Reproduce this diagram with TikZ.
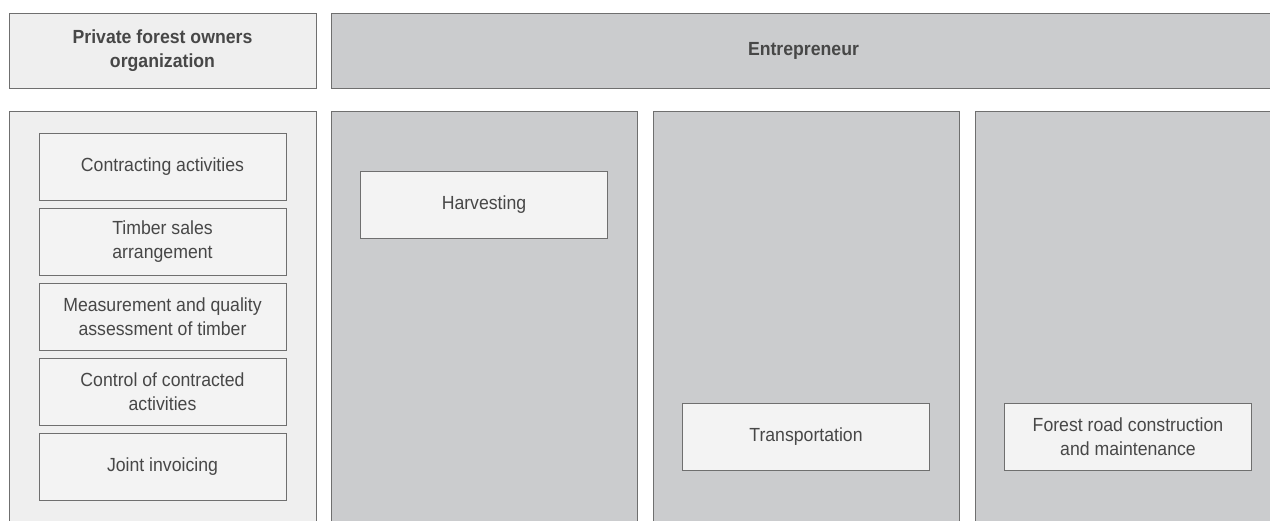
\documentclass[tikz,border=0pt]{standalone}
\usepackage{fontspec}
\setmainfont[FakeStretch=0.93]{Liberation Sans}
\usepackage{xcolor}
\usepackage{tikz}
\definecolor{panelgray}{HTML}{CBCCCE}
\definecolor{lightpanel}{HTML}{EFEFEF}
\definecolor{boxfill}{HTML}{F3F3F3}
\definecolor{edgegray}{HTML}{6F6F6F}
\definecolor{txtgray}{HTML}{474747}
\tikzset{head/.style={draw=edgegray, line width=1pt, minimum width=307pt, minimum height=75pt, inner sep=0pt, align=center, text=txtgray, font=\fontsize{19}{23.7}\selectfont\bfseries},
panel/.style={draw=edgegray, line width=1pt, anchor=north west, minimum width=306pt, minimum height=430pt, inner sep=0pt},
%white boxes inside the panels
task/.style={draw=edgegray, fill=boxfill, line width=0.8pt, minimum width=247pt, minimum height=67pt, inner sep=0pt, align=center, text=txtgray, font=\fontsize{19}{23.7}\selectfont}}

\begin{document}
\begin{tikzpicture}[x=1pt, y=-1pt]
\useasboundingbox (0,0) rectangle (1270,520);
\clip (0,0) rectangle (1270,520);
% headers
\node[head, fill=lightpanel] (owners) at (162.5,50.5) {Private forest owners\\organization};
\node[head, fill=panelgray, minimum width=945pt] (entre) at (803.5,50.5) {Entrepreneur};
% panels
\node[panel, fill=lightpanel, minimum width=307pt] (ownpanel) at (9,111) {};
\node[panel, fill=panelgray] (harvpanel) at (331,111) {};
\node[panel, fill=panelgray] (transpanel) at (653,111) {};
\node[panel, fill=panelgray] (roadpanel) at (975,111) {};
% owners organization tasks
\node[task] (contract) at (162.5,166.5) {Contracting activities};
\node[task] (sales) at (162.5,241.5) {Timber sales\\arrangement};
\node[task] (measure) at (162.5,316.5) {Measurement and quality\\assessment of timber};
\node[task] (control) at (162.5,391.5) {Control of contracted\\activities};
\node[task] (invoice) at (162.5,466.5) {Joint invoicing};
% entrepreneur tasks
\node[task] (harvest) at (484,204.5) {Harvesting};
\node[task] (transport) at (806,436.5) {Transportation};
\node[task] (road) at (1128,436.5) {Forest road construction\\and maintenance};
\end{tikzpicture}
\end{document}
